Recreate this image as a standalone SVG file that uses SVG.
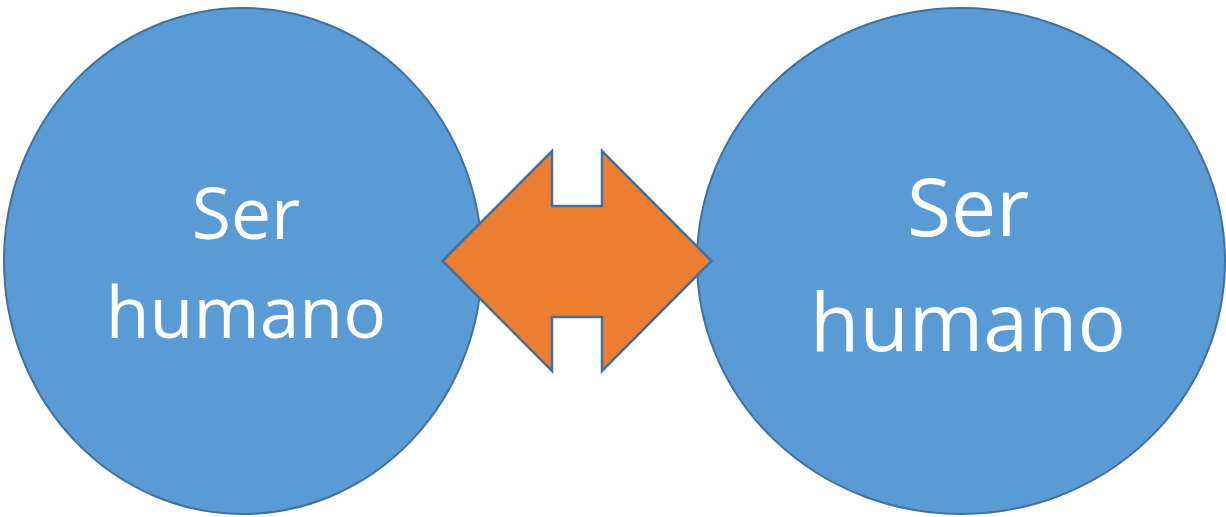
<svg xmlns="http://www.w3.org/2000/svg" width="1226" height="517" viewBox="0 0 1226 517">
<style>
.node{fill:#5B9BD5;stroke:#41719C;stroke-width:2}
.lbl{fill:#FFFFFF;font-family:"Open Sans","Noto Sans",sans-serif;text-anchor:middle}
.arrow{fill:#ED7D31;stroke:#41719C;stroke-width:2.5;stroke-linejoin:miter}
</style>
<rect width="1226" height="517" fill="#FFFFFF"/>
<g id="node-left">
<ellipse class="node" cx="243" cy="261" rx="239" ry="253"/>
<text class="lbl" x="246" y="239" font-size="71.5">Ser</text>
<text class="lbl" x="246" y="338" font-size="71.5">humano</text>
</g>
<g id="node-right">
<ellipse class="node" cx="961" cy="261" rx="264" ry="253"/>
<text class="lbl" x="968" y="236" font-size="80.5">Ser</text>
<text class="lbl" x="968" y="351" font-size="80.5">humano</text>
</g>
<g id="connectors">
<polygon class="arrow" points="442.5,261 552,151 552,206 602,206 602,151 711.5,261 602,371 602,317 552,317 552,371"/>
</g>
</svg>
